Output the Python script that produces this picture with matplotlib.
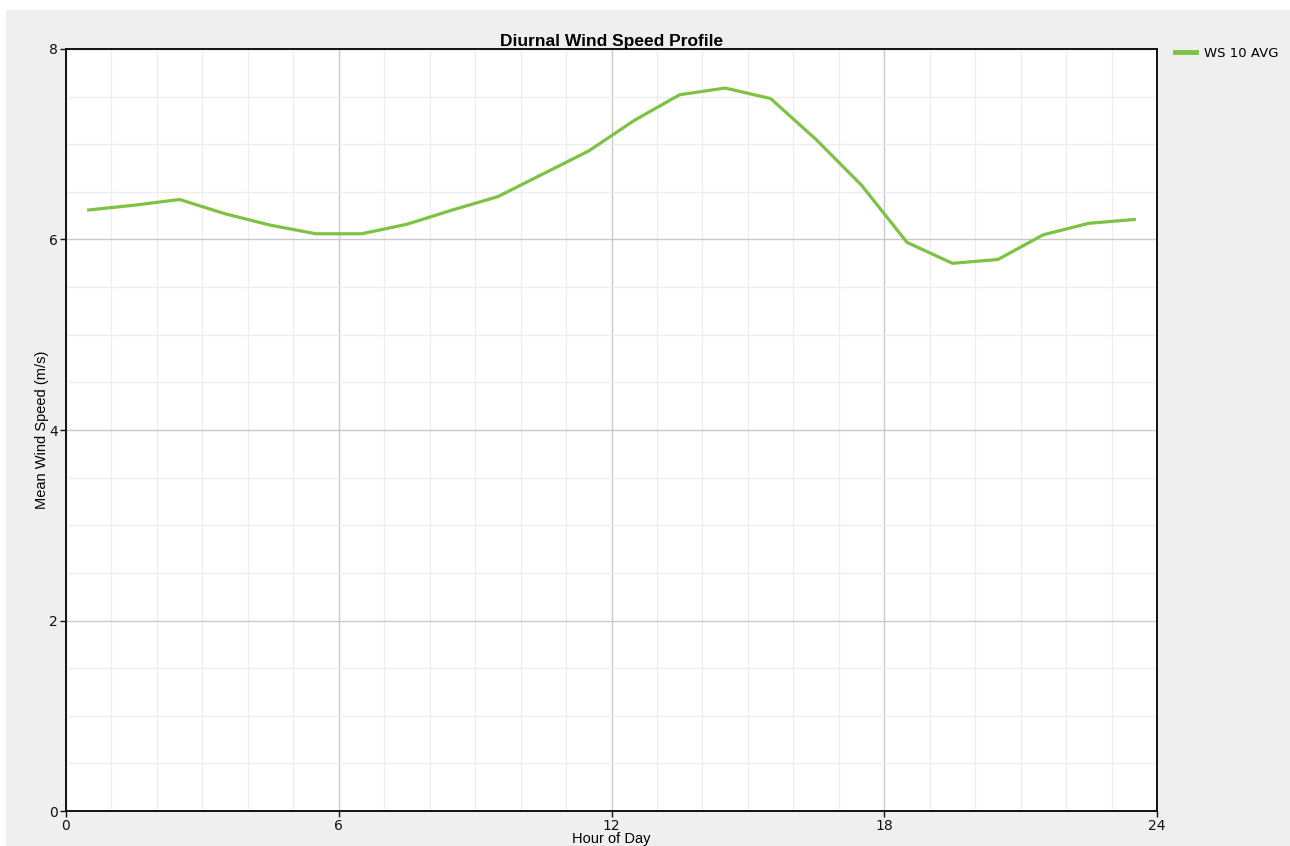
import matplotlib
matplotlib.use("Agg")
import matplotlib.pyplot as plt
from matplotlib.patches import Rectangle

hours = [0.5, 1.5, 2.5, 3.5, 4.5, 5.5, 6.5, 7.5, 8.5, 9.5, 10.5, 11.5,
         12.5, 13.5, 14.5, 15.5, 16.5, 17.5, 18.5, 19.5, 20.5, 21.5, 22.5, 23.5]
ws10_avg = [6.31, 6.36, 6.42, 6.27, 6.15, 6.06, 6.06, 6.16, 6.31, 6.45, 6.69, 6.93,
            7.25, 7.52, 7.59, 7.48, 7.05, 6.57, 5.97, 5.75, 5.79, 6.05, 6.17, 6.21]
x_ticks = [0, 6, 12, 18, 24]
y_ticks = [0, 2, 4, 6, 8]
series_name = "WS 10 AVG"

W, H = 1290, 846
fig = plt.figure(figsize=(W / 100, H / 100), dpi=100)
fig.patch.set_facecolor("white")
# gray panel background
fig.add_artist(Rectangle((6 / W, 0), 1 - 6 / W, 1 - 10 / H, transform=fig.transFigure,
                         facecolor="#efefef", edgecolor="none", zorder=-10))

ax = fig.add_axes([66 / W, 1 - 811 / H, (1157 - 66) / W, (811 - 49) / H])
ax.set_facecolor("white")

ax.plot(hours, ws10_avg, color="#7dc242", linewidth=2.3, label=series_name,
        solid_joinstyle="round", zorder=3)

ax.set_xlim(0, 24)
ax.set_ylim(0, 8)
ax.set_xticks(x_ticks)
ax.set_yticks(y_ticks)
ax.set_xticks(range(0, 25), minor=True)
ax.set_yticks([i * 0.5 for i in range(17)], minor=True)
ax.grid(which="major", color="#c9c9c9", linewidth=1.0, zorder=1)
ax.grid(which="minor", color="#ededed", linewidth=0.9, zorder=0)
ax.set_axisbelow(True)

for s in ax.spines.values():
    s.set_linewidth(1.4)
    s.set_color("#111111")

ax.tick_params(which="major", direction="out", length=4, width=1, labelsize=10,
               colors="#111111", pad=2)
ax.tick_params(which="minor", length=0)

ax.set_title("Diurnal Wind Speed Profile", fontsize=12.5, fontweight="bold",
             family="Liberation Sans", pad=2)
ax.set_ylabel("Mean Wind Speed (m/s)", fontsize=10.5, family="Liberation Sans", labelpad=0)
ax.set_xlabel("Hour of Day", fontsize=10.5, family="Liberation Sans", labelpad=-1)

leg = ax.legend(loc="upper left", bbox_to_anchor=(1.012, 1.01), frameon=False,
                fontsize=9.5, handlelength=1.6, handletextpad=0.6, borderaxespad=0)
for line in leg.get_lines():
    line.set_linewidth(3.5)

fig.savefig("out.png", dpi=100, facecolor=fig.get_facecolor())
